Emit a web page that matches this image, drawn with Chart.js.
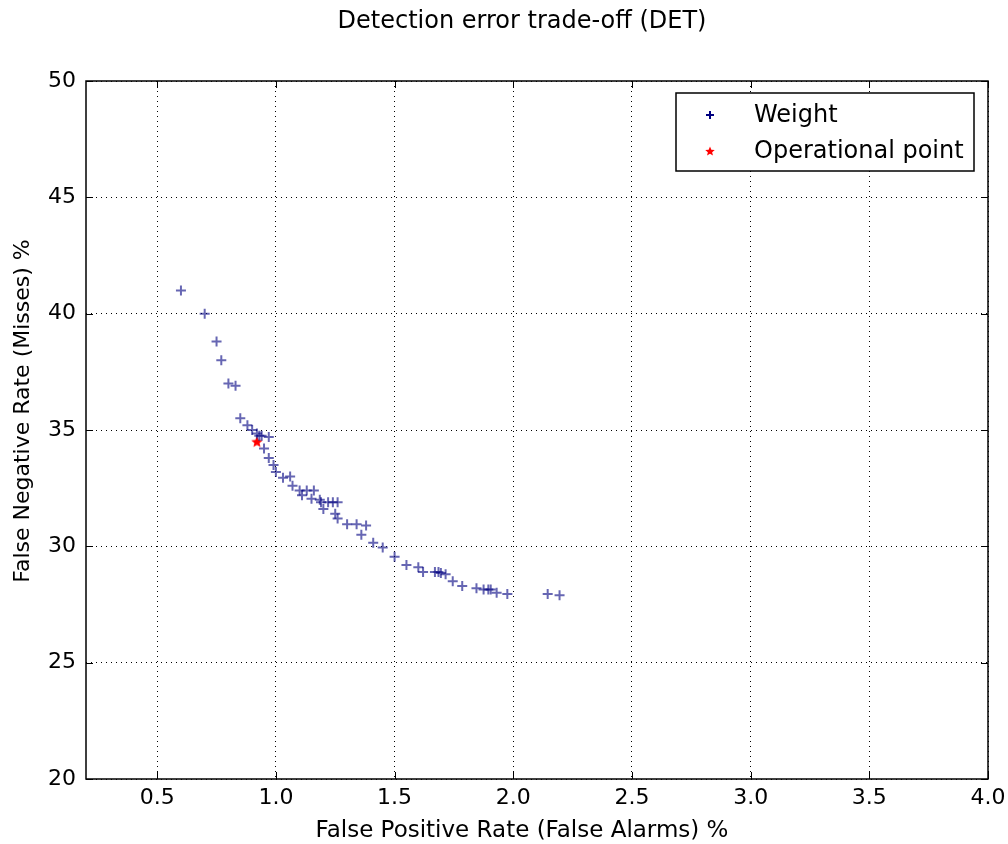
<!DOCTYPE html>
<html>
<head>
<meta charset="utf-8">
<script src="https://cdn.jsdelivr.net/npm/chart.js@4/dist/chart.umd.min.js"></script>
<style>
  body { margin: 0; background: #fff; }
  #wrap { width: 1008px; height: 844px; }
</style>
</head>
<body>
<div id="wrap"><canvas id="det" width="1008" height="844"></canvas></div>
<script>
// values
var fpr = [0.60, 0.70, 0.75, 0.77, 0.80, 0.83, 0.85, 0.88, 0.90, 0.92, 0.93, 0.94, 0.97, 0.95, 0.97,
           0.99, 1.00, 1.03, 1.06, 1.07, 1.10, 1.11, 1.13, 1.15, 1.16, 1.185, 1.19, 1.20, 1.22, 1.24,
           1.26, 1.25, 1.26, 1.30, 1.34, 1.38, 1.36, 1.41, 1.45, 1.50, 1.55, 1.60, 1.62, 1.67, 1.685,
           1.695, 1.715, 1.745, 1.785, 1.845, 1.875, 1.895, 1.905, 1.93, 1.975, 2.145, 2.195];
var fnr = [41.0, 40.0, 38.8, 38.0, 37.0, 36.9, 35.5, 35.2, 35.0, 34.85, 34.75, 34.75, 34.7, 34.2, 33.8,
           33.5, 33.2, 32.95, 33.0, 32.6, 32.4, 32.2, 32.4, 32.05, 32.4, 32.0, 31.9, 31.6, 31.9, 31.9,
           31.9, 31.4, 31.2, 30.95, 30.95, 30.9, 30.5, 30.15, 29.95, 29.55, 29.2, 29.1, 28.9, 28.9, 28.9,
           28.85, 28.8, 28.5, 28.3, 28.2, 28.15, 28.15, 28.15, 28.0, 27.95, 27.95, 27.9];
var opPoint = [0.92, 34.5];
var xTicks = [0.5, 1.0, 1.5, 2.0, 2.5, 3.0, 3.5, 4.0];
var yTicks = [20, 25, 30, 35, 40, 45, 50];

var titleText = 'Detection error trade-off (DET)';
var xLabel = 'False Positive Rate (False Alarms) %';
var yLabel = 'False Negative Rate (Misses) %';

var FONT = "'DejaVu Sans', sans-serif";

function makeStar(size, color) {
	var c = document.createElement('canvas');
	c.width = size; c.height = size;
	var g = c.getContext('2d');
	var r = size / 2, ri = r * 0.45;
	g.beginPath();
	for (var i = 0; i < 10; i++) {
		var rr = (i % 2 == 0) ? r : ri;
		var a = -Math.PI / 2 + i * Math.PI / 5;
		var px = r + rr * Math.cos(a), py = r + rr * Math.sin(a) + 0.5;
		if (i == 0) g.moveTo(px, py); else g.lineTo(px, py);
	}
	g.closePath();
	g.fillStyle = color;
	g.fill();
	return c;
}
var star = makeStar(12, 'red');
var starSmall = makeStar(10, 'red');

var pts = [];
for (var i = 0; i < fpr.length; i++) pts.push({ x: fpr[i], y: fnr[i] });

var framePlugin = {
	id: 'frame',
	afterDraw: function(chart) {
		var ctx = chart.ctx, a = chart.chartArea;
		var xs = chart.scales.x, ys = chart.scales.y;
		ctx.save();
		ctx.strokeStyle = '#000';
		ctx.lineWidth = 1;
		// inward ticks
		ctx.beginPath();
		xTicks.forEach(function(v) {
			var px = Math.round(xs.getPixelForValue(v)) + 0.5;
			ctx.moveTo(px, a.bottom); ctx.lineTo(px, a.bottom - 7);
			ctx.moveTo(px, a.top); ctx.lineTo(px, a.top + 7);
		});
		yTicks.forEach(function(v) {
			var py = Math.round(ys.getPixelForValue(v)) + 0.5;
			ctx.moveTo(a.left, py); ctx.lineTo(a.left + 7, py);
			ctx.moveTo(a.right, py); ctx.lineTo(a.right - 7, py);
		});
		ctx.stroke();
		ctx.lineWidth = 1.5;
		ctx.strokeRect(a.left, a.top, a.right - a.left, a.bottom - a.top);

		// titles
		ctx.fillStyle = '#000';
		ctx.textAlign = 'center';
		ctx.textBaseline = 'middle';
		ctx.font = '24px ' + FONT;
		ctx.fillText(titleText, 522, 22);
		ctx.font = '23px ' + FONT;
		ctx.fillText(xLabel, 522, 831);
		ctx.save();
		ctx.translate(23, 411);
		ctx.rotate(-Math.PI / 2);
		ctx.font = '22px ' + FONT;
		ctx.fillText(yLabel, 0, 0);
		ctx.restore();

		// legend box
		ctx.textAlign = 'left';
		var bx = a.right - 312, by = a.top + 12, bw = 298, bh = 78;
		ctx.fillStyle = '#fff';
		ctx.fillRect(bx, by, bw, bh);
		ctx.lineWidth = 1.5;
		ctx.strokeRect(bx, by, bw, bh);
		ctx.font = '24px ' + FONT;
		ctx.fillStyle = '#000';
		chart.data.datasets.forEach(function(ds, k) {
			var my = by + 22 + k * 36;
			var mx = bx + 34;
			if (ds.pointStyle == 'cross') {
				ctx.strokeStyle = 'navy';
				ctx.lineWidth = 2;
				ctx.beginPath();
				ctx.moveTo(mx - 4, my); ctx.lineTo(mx + 4, my);
				ctx.moveTo(mx, my - 4); ctx.lineTo(mx, my + 4);
				ctx.stroke();
			} else {
				ctx.drawImage(starSmall, mx - 5, my - 5);
			}
			ctx.fillStyle = '#000';
			ctx.fillText(ds.label, bx + 78, my + 1);
		});
		ctx.restore();
	}
};

var chart = new Chart(document.getElementById('det'), {
	type: 'scatter',
	data: {
		datasets: [{
			label: 'Weight',
			data: pts,
			pointStyle: 'cross',
			pointRadius: 5,
			pointHoverRadius: 5,
			borderWidth: 2,
			borderColor: 'rgba(0,0,128,0.6)',
			backgroundColor: 'rgba(0,0,128,0.6)'
		}, {
			label: 'Operational point',
			data: [{ x: opPoint[0], y: opPoint[1] }],
			pointStyle: star,
			pointRadius: 6,
			borderColor: 'red',
			backgroundColor: 'red'
		}]
	},
	options: {
		responsive: false,
		animation: false,
		devicePixelRatio: 1,
		layout: { padding: { top: 81, right: 20, left: 0, bottom: 0 } },
		plugins: {
			legend: { display: false },
			tooltip: { enabled: false },
			title: { display: false }
		},
		scales: {
			x: {
				type: 'linear',
				min: 0.2, max: 4.0,
				afterBuildTicks: function(s) { s.ticks = xTicks.map(function(v) { return { value: v }; }); },
				afterFit: function(s) { s.height = 65; s.paddingLeft = 0; s.paddingRight = 0; },
				grid: { color: '#000', lineWidth: 1, drawTicks: false },
				border: { display: false, dash: [1, 4] },
				ticks: {
					color: '#000', padding: 6,
					font: { family: FONT, size: 22 },
					callback: function(v) { return Number(v).toFixed(1); }
				}
			},
			y: {
				type: 'linear',
				min: 20, max: 50,
				afterBuildTicks: function(s) { s.ticks = yTicks.map(function(v) { return { value: v }; }); },
				afterFit: function(s) { s.width = 86; s.paddingTop = 0; s.paddingBottom = 0; },
				grid: { color: '#000', lineWidth: 1, drawTicks: false },
				border: { display: false, dash: [1, 4] },
				ticks: {
					color: '#000', padding: 10,
					font: { family: FONT, size: 22 },
					callback: function(v) { return String(v); }
				}
			}
		}
	},
	plugins: [framePlugin]
});
</script>
</body>
</html>
